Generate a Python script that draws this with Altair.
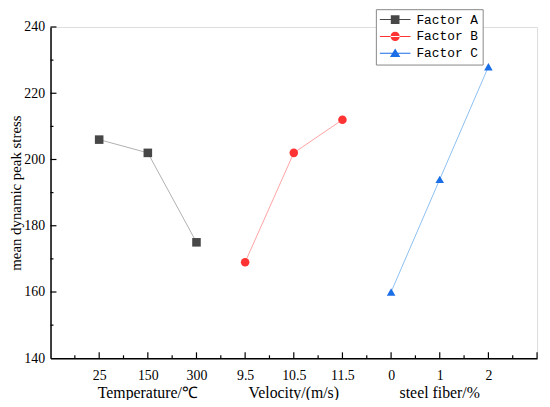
import json
import altair as alt
import pandas as pd

factor_names = ["Factor A", "Factor B", "Factor C"]
positions_A = [1, 2, 3]
positions_B = [4, 5, 6]
positions_C = [7, 8, 9]
values_A = [206, 202, 175]
values_B = [169, 202, 212]
values_C = [160, 194, 228]
tick_labels = ["25", "150", "300", "9.5", "10.5", "11.5", "0", "1", "2"]
group_titles = ["Temperature/℃", "Velocity/(m/s)", "steel fiber/%"]
group_pos = [2, 5, 8]
marker_colors = ["#474747", "#ff3333", "#1a6ee6"]
line_colors = ["#b0b0b0", "#ffa3a3", "#8dbff2"]
shapes = ["square", "circle", "triangle-up"]

# legend glyphs: a short line with the marker on it
line_part = "M-3.7,-0.12H3.7V0.12H-3.7Z"
legend_shapes = [
    line_part + "M-1.05,-1.05H1.05V1.05H-1.05Z",
    line_part + "M-1.1,0A1.1,1.1 0 1,0 1.1,0A1.1,1.1 0 1,0 -1.1,0Z",
    line_part + "M0,-1.15L1.25,0.95H-1.25Z",
]

x_major = list(range(1, 11))
x_minor = [i + 0.5 for i in range(0, 10)]
y_major = [160, 180, 200, 220, 240]
y_minor = [150, 170, 190, 210, 230]

W, H = 492, 335

rows = []
for name, ps, vs in zip(factor_names, [positions_A, positions_B, positions_C], [values_A, values_B, values_C]):
    for p, v in zip(ps, vs):
        rows.append({"factor": name, "pos": p, "value": v})
df = pd.DataFrame(rows)

label_expr = json.dumps(tick_labels) + "[datum.value - 1]"

x_enc = alt.X("pos:Q", scale=alt.Scale(domain=[0, 10], nice=False),
              axis=alt.Axis(values=list(range(1, 10)), labelExpr=label_expr, tickSize=0,
                            title=None, grid=False, domainColor="black", domainWidth=1.5,
                            labelFont="Liberation Serif", labelFontSize=14, labelColor="black",
                            labelPadding=10))
y_enc = alt.Y("value:Q", scale=alt.Scale(domain=[140, 240], nice=False, zero=False),
              axis=alt.Axis(values=[140, 160, 180, 200, 220, 240], tickSize=0,
                            title="mean dynamic peak stress", titleFont="Liberation Serif",
                            titleFontSize=15, titleFontWeight="normal", titleColor="black",
                            titlePadding=0, grid=False, domainColor="black", domainWidth=1.5,
                            labelFont="Liberation Serif", labelFontSize=14, labelColor="black",
                            labelPadding=6))

layers = []
base = alt.Chart(df)
for name, lc in zip(factor_names, line_colors):
    layers.append(base.transform_filter(alt.datum.factor == name).mark_line(
        strokeWidth=1, color=lc).encode(x=x_enc, y=y_enc))

x_ticks_major = alt.Chart(pd.DataFrame({"pos": x_major})).mark_rule(color="black", strokeWidth=1.2).encode(
    x="pos:Q", y=alt.value(H), y2=alt.value(H - 6))
x_ticks_minor = alt.Chart(pd.DataFrame({"pos": x_minor})).mark_rule(color="black", strokeWidth=1.2).encode(
    x="pos:Q", y=alt.value(H), y2=alt.value(H - 3))
y_ticks_major = alt.Chart(pd.DataFrame({"value": y_major})).mark_rule(color="black", strokeWidth=1.2).encode(
    y="value:Q", x=alt.value(0), x2=alt.value(6))
y_ticks_minor = alt.Chart(pd.DataFrame({"value": y_minor})).mark_rule(color="black", strokeWidth=1.2).encode(
    y="value:Q", x=alt.value(0), x2=alt.value(3))
layers += [x_ticks_major, x_ticks_minor, y_ticks_major, y_ticks_minor]

groups = alt.Chart(pd.DataFrame({"pos": group_pos, "label": group_titles})).mark_text(
    font="Liberation Serif", fontSize=16, baseline="middle", color="black").encode(
    x="pos:Q", y=alt.value(H + 35), text="label:N")
layers.append(groups)

for name, mc, sh in zip(factor_names, marker_colors, shapes):
    layers.append(base.transform_filter(alt.datum.factor == name).mark_point(
        filled=True, size=75, opacity=1, shape=sh, color=mc).encode(x=x_enc, y=y_enc))

legend = alt.Legend(title=None, orient="none", legendX=329, legendY=-18,
                    labelFont="Liberation Mono", labelFontSize=13, labelColor="black",
                    strokeColor="#888888", fillColor="white", padding=4,
                    symbolSize=70, symbolOpacity=1, symbolStrokeWidth=0,
                    rowPadding=3, labelOffset=15, symbolOffset=9)

legend_layer = base.mark_point(filled=True, opacity=0, size=70).encode(
    x=x_enc, y=y_enc,
    color=alt.Color("factor:N", scale=alt.Scale(domain=factor_names, range=marker_colors), legend=legend),
    shape=alt.Shape("factor:N", scale=alt.Scale(domain=factor_names, range=legend_shapes), legend=legend),
)
layers.append(legend_layer)

chart = alt.layer(*layers).properties(
    width=W, height=H,
    autosize=alt.AutoSizeParams(type="none"),
    padding={"left": 43, "top": 17, "right": 5, "bottom": 40},
).configure_view(stroke=None).configure(background="white")

chart.save("out.html", embed_options={"renderer": "svg", "actions": False})
